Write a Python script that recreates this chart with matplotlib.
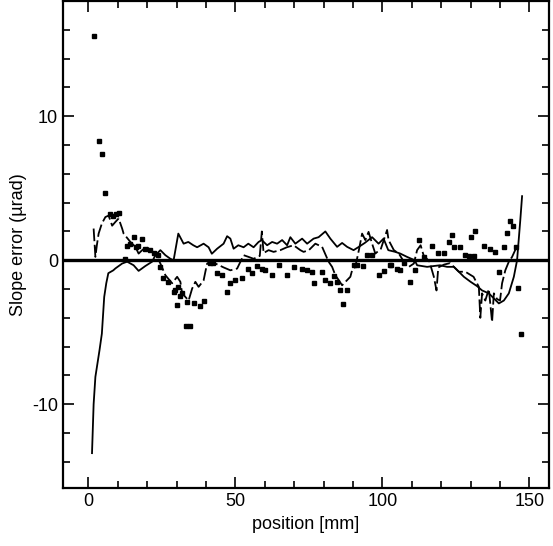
import matplotlib.pyplot as plt
from matplotlib.ticker import MultipleLocator
import numpy as np

# measured points (square markers)
dots_x = [2.0, 3.5, 4.8, 5.8, 7.5, 8.5, 9.5, 10.5, 12.6, 13.1, 14.0, 15.4, 16.2, 17.0,
          18.3, 19.3, 21.0, 22.2, 23.8, 24.5, 25.5, 27.2, 29.0, 29.6, 30.2, 30.6, 31.3,
          32.0, 33.3, 33.6, 34.6, 35.8, 38.0, 39.2, 41.5, 42.5, 43.8, 45.5, 47.2, 48.3,
          50.0, 52.3, 54.4, 55.6, 57.5, 59.0, 60.2, 62.5, 64.7, 67.6, 69.8, 72.7, 74.4,
          76.0, 76.6, 79.5, 80.6, 82.3, 83.4, 84.6, 85.7, 86.6, 88.0, 90.5, 91.5, 93.5,
          94.8, 96.5, 98.7, 100.4, 102.5, 103.0, 105.0, 106.0, 107.5, 109.5, 111.2, 112.3,
          114.0, 116.9, 119.0, 121.0, 122.5, 123.7, 124.3, 126.5, 128.2, 129.5, 130.0,
          131.0, 131.6, 134.5, 136.7, 138.4, 139.5, 141.3, 142.4, 143.5, 144.4, 145.6,
          146.0, 147.3]
dots_y = [15.6, 8.3, 7.4, 4.7, 3.2, 3.1, 3.2, 3.3, 0.1, 1.0, 1.1, 1.6, 0.9, 1.0,
          1.5, 0.8, 0.7, 0.5, 0.35, -0.5, -1.25, -1.5, -2.2, -2.1, -3.1, -1.85, -2.5,
          -2.3, -4.6, -2.9, -4.6, -3.0, -3.2, -2.8, -0.2, -0.2, -0.9, -1.0, -2.2, -1.6,
          -1.4, -1.2, -0.6, -0.9, -0.4, -0.6, -0.7, -1.0, -0.35, -1.0, -0.5, -0.6, -0.7,
          -0.8, -1.6, -0.8, -1.4, -1.6, -1.1, -1.5, -2.1, -3.05, -2.1, -0.3, -0.3, -0.4,
          0.35, 0.35, -1.0, -0.75, -0.3, -0.3, -0.6, -0.7, -0.2, -1.5, -0.7, 1.4,
          0.2, 1.0, 0.5, 0.5, 1.3, 1.75, 0.9, 0.9, 0.35, 0.3, 1.6,
          0.3, 2.0, 1.0, 0.8, 0.6, -0.8, 0.9, 1.9, 2.7, 2.4, 0.9,
          -1.95, -5.1]

# solid curve
solid_x = [1.25, 1.8, 2.4, 3.8, 4.6, 5.4, 6.1, 6.8, 8.5, 9.2, 11.5, 13.2, 15.4, 17.1, 19.4,
           21.7, 22.8, 24.5, 26.2, 27.9, 29.0, 30.6, 32.4, 34.0, 35.7, 37.0, 39.2, 40.9,
           42.0, 43.8, 46.0, 47.2, 48.3, 49.4, 51.0, 52.8, 54.4, 56.2, 57.9, 59.0, 60.8,
           62.5, 64.2, 65.9, 67.6, 68.7, 70.4, 72.7, 74.4, 76.6, 78.3, 80.6, 82.3, 84.6,
           86.3, 88.0, 90.2, 92.0, 94.0, 96.5, 98.7, 100.4, 102.0, 104.4, 106.1, 108.4,
           111.0, 111.8, 115.2, 119.6, 122.0, 124.3, 126.0, 127.7, 130.0, 132.2, 133.9,
           136.2, 137.9, 139.6, 141.3, 143.0, 144.7, 145.8, 146.9, 147.5]
solid_y = [-13.4, -10.0, -8.1, -6.25, -5.1, -2.55, -1.6, -0.9, -0.7, -0.57, -0.23, -0.1, -0.35,
           -0.74, -0.4, -0.1, 0.35, 0.7, 0.35, 0.1, 0.0, 1.85, 1.15, 1.27, 1.04, 0.9, 1.15,
           0.9, 0.45, 0.8, 1.15, 1.67, 1.5, 0.8, 1.04, 0.9, 1.15, 0.9, 1.27, 1.4, 1.04,
           1.27, 1.15, 1.4, 1.04, 1.6, 1.15, 1.5, 1.15, 1.5, 1.6, 2.0, 1.5, 0.93,
           1.2, 0.93, 0.7, 0.93, 1.2, 1.6, 1.15, 1.5, 0.7, 0.58, 0.46, 0.23,
           0.0, -0.35, -0.46, -0.35, -0.46, -0.46, -0.8, -1.15, -1.5, -1.8, -2.1,
           -2.3, -2.65, -3.0, -2.8, -2.3, -1.15, 0.0, 2.8, 4.45]

# dashed curve
dash_x = [1.8, 2.4, 2.9, 3.5, 4.6, 5.8, 6.9, 8.1, 9.2, 10.3, 11.5, 12.0, 14.3, 16.0, 17.1,
          18.3, 19.9, 21.7, 23.4, 24.5, 26.2, 28.5, 30.2, 31.3, 31.9, 34.1, 35.3, 36.4,
          37.5, 39.2, 39.8, 40.4, 41.5, 44.0, 46.0, 48.3, 50.6, 52.8, 54.5, 56.2, 58.3,
          59.0, 59.6, 61.3, 63.0, 65.3, 67.5, 69.8, 72.1, 73.2, 75.0, 77.2, 79.5, 81.7,
          82.9, 84.0, 85.2, 86.3, 89.1, 89.7, 90.8, 92.0, 93.1, 94.2, 95.3, 96.5, 97.6,
          99.5, 101.6, 102.1, 103.9, 105.6, 107.3, 109.0, 110.7, 111.8, 113.0, 114.0,
          116.0, 117.5, 118.4, 119.0, 121.0, 123.0, 126.0, 128.2, 131.0, 132.8, 133.3,
          133.9, 135.0, 136.2, 137.3, 137.9, 139.0, 140.0, 140.7, 141.8, 143.0, 144.1,
          145.6]
dash_y = [2.2, 0.23, 1.04, 1.85, 2.55, 3.0, 3.1, 2.4, 2.66, 2.9, 2.2, 1.85, 1.27, 0.93, 0.46,
          0.7, 0.93, 0.58, 0.23, -0.23, -1.04, -1.6, -1.15, -1.5, -2.3, -2.8, -1.97, -1.5,
          -1.85, -1.4, -0.8, -0.23, -0.1, -0.3, -0.5, -0.7, -0.58, 0.35, 0.23, 0.1, 0.3,
          2.0, 0.5, 0.7, 0.58, 0.7, 0.9, 1.04, 0.7, 0.58, 0.7, 1.15, 0.93, -0.1,
          -0.46, -1.04, -1.4, -1.74, -1.15, -0.7, -0.46, 0.7, 1.85, 1.4, 1.97, 1.15, 0.46,
          0.8, 2.1, 1.4, 0.7, 0.46, -0.1, -0.46, -0.23, 0.7, 1.04, 0.35,
          -0.1, -1.15, -2.1, -0.5, -0.3, -0.2, -0.8, -0.8, -1.15, -1.85, -4.0,
          -2.3, -2.8, -2.0, -4.3, -2.3, -2.7, -2.8, -1.6, -0.7, -0.1, 0.23,
          0.9]

plt.rcParams['font.family'] = ['Liberation Sans', 'DejaVu Sans']
plt.rcParams['axes.unicode_minus'] = False

fig = plt.figure(figsize=(5.53, 5.46), dpi=100)
ax = fig.add_axes([0.114, 0.106, 0.879, 0.892])

ax.axhline(0, color='black', linewidth=2.4, zorder=1)
ax.plot(solid_x, solid_y, color='black', linewidth=1.3)
ax.plot(dash_x, dash_y, color='black', linewidth=1.3, linestyle=(0, (7, 2)))
ax.plot(dots_x, dots_y, linestyle='none', marker='s', markersize=3.2,
        color='black')

ax.set_xlim(-8.6, 156.7)
ax.set_ylim(-15.83, 18.0)
ax.xaxis.set_major_locator(MultipleLocator(50))
ax.xaxis.set_minor_locator(MultipleLocator(10))
ax.yaxis.set_major_locator(MultipleLocator(10))
ax.yaxis.set_minor_locator(MultipleLocator(2))
ax.tick_params(which='both', direction='in', top=True, right=True, width=1.2,
               labelsize=13)
ax.tick_params(which='major', length=8)
ax.tick_params(which='minor', length=5)
for s in ax.spines.values():
    s.set_linewidth(1.6)

ax.set_xlabel('position [mm]', fontsize=13, labelpad=4)
ax.set_ylabel('Slope error (µrad)', fontsize=13, labelpad=4)

fig.savefig('out.png', dpi=100)
